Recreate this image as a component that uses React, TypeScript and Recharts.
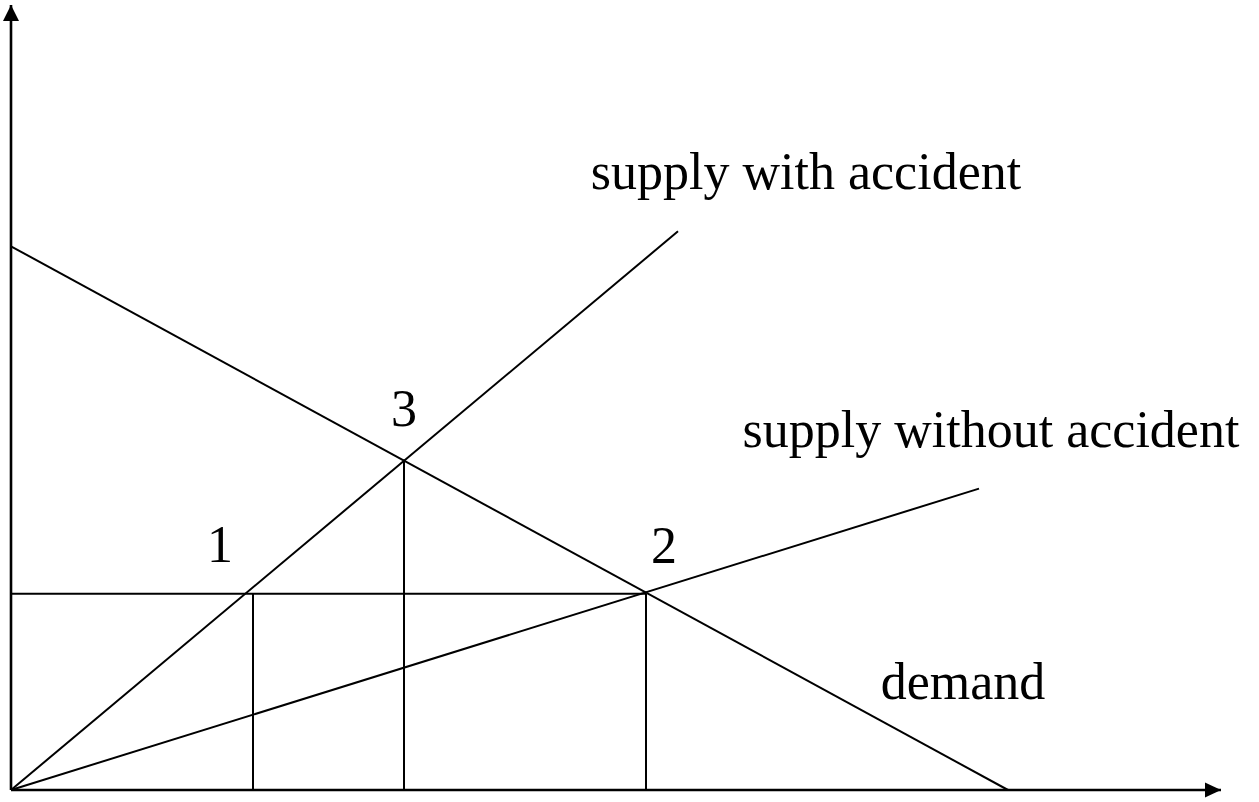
import React from "react";
import { ComposedChart, Line, Scatter, XAxis, YAxis } from "recharts";

// quantity (x) and price (y) in chart units
const X_MAX = 121;
const Y_MAX = 78.4;

const demand = [{ x: 0, y: 54.3 }, { x: 99.7, y: 0 }];
const supplyWithout = [{ x: 0, y: 0 }, { x: 96.8, y: 30.1 }];
const supplyWith = [{ x: 0, y: 0 }, { x: 66.7, y: 55.8 }];
const priceLine = [{ x: 0, y: 19.6 }, { x: 63.5, y: 19.6 }];
const qLine1 = [{ x: 24.2, y: 0 }, { x: 24.2, y: 19.6 }];
const qLine3 = [{ x: 39.3, y: 0 }, { x: 39.3, y: 33.0 }];
const qLine2 = [{ x: 63.5, y: 0 }, { x: 63.5, y: 19.6 }];
const xAxisLine = [{ x: 0, y: 0 }, { x: X_MAX, y: 0 }];
const yAxisLine = [{ x: 0, y: 0 }, { x: 0, y: Y_MAX }];

const labels = [
  { x: 79.5, y: 60.0, text: "supply with accident" },
  { x: 98.0, y: 34.3, text: "supply without accident" },
  { x: 95.2, y: 9.1, text: "demand" },
  { x: 20.9, y: 22.8, text: "1" },
  { x: 65.3, y: 22.7, text: "2" },
  { x: 39.3, y: 36.4, text: "3" },
];

const ink = "#000";

const xArrow = (p: any) =>
  p.index === 1 ? (
    <polygon key="xa" points={`${p.cx},${p.cy} ${p.cx - 16},${p.cy - 7.5} ${p.cx - 16},${p.cy + 7.5}`} fill={ink} />
  ) : (
    <g key={`xd${p.index}`} />
  );

const yArrow = (p: any) =>
  p.index === 1 ? (
    <polygon key="ya" points={`${p.cx},${p.cy} ${p.cx - 8},${p.cy + 16} ${p.cx + 8},${p.cy + 16}`} fill={ink} />
  ) : (
    <g key={`yd${p.index}`} />
  );

const TextMark = (p: any) => (
  <text
    x={p.cx}
    y={p.cy}
    textAnchor="middle"
    fontFamily="'Liberation Serif', 'Times New Roman', serif"
    fontSize={52}
    fill={ink}
  >
    {p.payload.text}
  </text>
);

export default function App() {
  const seg = { type: "linear" as const, dataKey: "y", stroke: ink, strokeWidth: 2, dot: false, isAnimationActive: false };
  return (
    <div style={{ position: "absolute", left: 0, top: 0, background: "#fff" }}>
      <ComposedChart width={1259} height={802} margin={{ top: 5, right: 38, bottom: 12, left: 11 }}>
        <XAxis type="number" dataKey="x" domain={[0, X_MAX]} hide />
        <YAxis type="number" dataKey="y" domain={[0, Y_MAX]} hide />
        <Line {...seg} data={demand} />
        <Line {...seg} data={supplyWithout} />
        <Line {...seg} data={supplyWith} />
        <Line {...seg} data={priceLine} />
        <Line {...seg} data={qLine1} />
        <Line {...seg} data={qLine3} />
        <Line {...seg} data={qLine2} />
        <Line {...seg} data={xAxisLine} strokeWidth={2.6} dot={xArrow} />
        <Line {...seg} data={yAxisLine} strokeWidth={2.6} dot={yArrow} />
        <Scatter data={labels} dataKey="y" shape={TextMark} isAnimationActive={false} />
      </ComposedChart>
    </div>
  );
}
